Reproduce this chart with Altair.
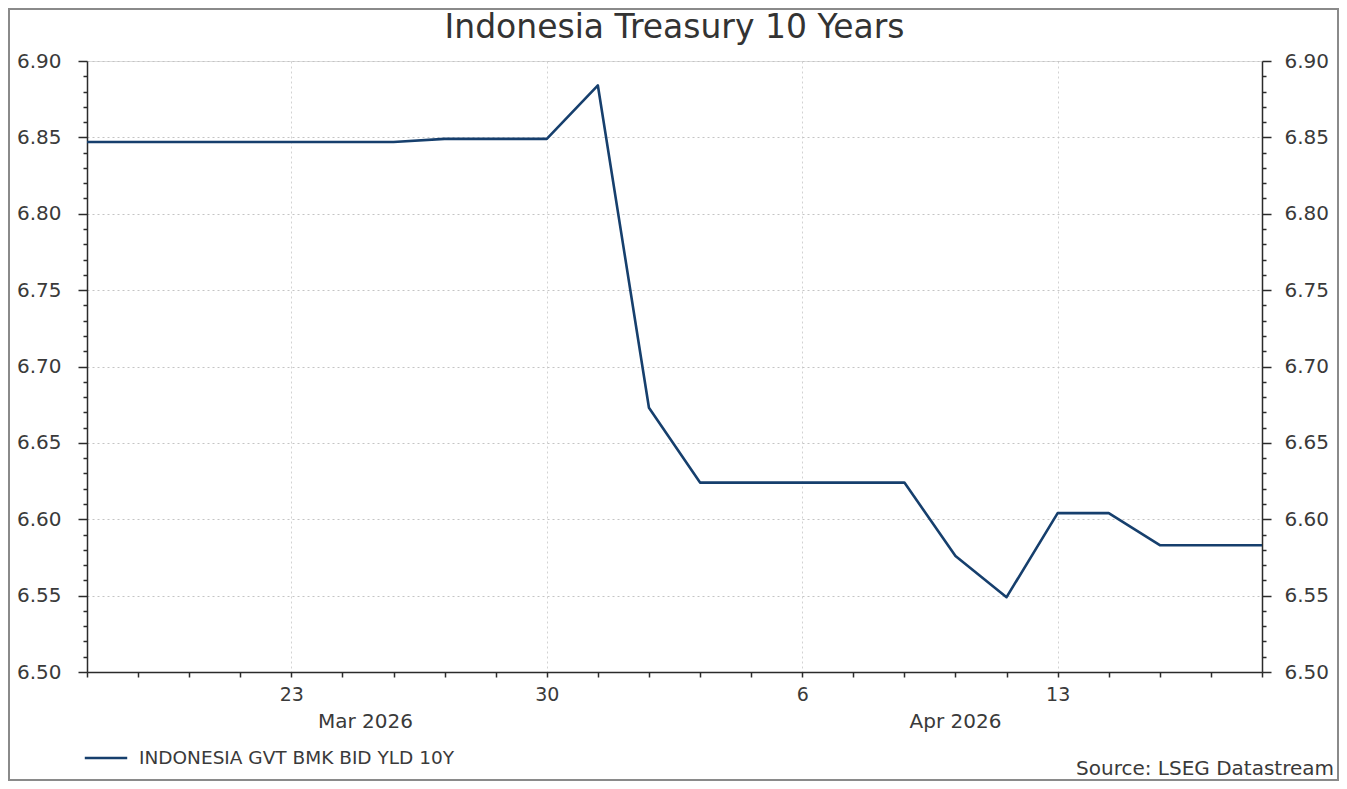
import altair as alt
import pandas as pd

# ---------------- data ----------------
dates = ["2026-03-17", "2026-03-18", "2026-03-19", "2026-03-20",
         "2026-03-23", "2026-03-24", "2026-03-25", "2026-03-26", "2026-03-27",
         "2026-03-30", "2026-03-31", "2026-04-01", "2026-04-02", "2026-04-03",
         "2026-04-06", "2026-04-07", "2026-04-08", "2026-04-09", "2026-04-10",
         "2026-04-13", "2026-04-14", "2026-04-15", "2026-04-16", "2026-04-17"]
yields = [6.847, 6.847, 6.847, 6.847,
          6.847, 6.847, 6.847, 6.849, 6.849,
          6.849, 6.884, 6.673, 6.624, 6.624,
          6.624, 6.624, 6.624, 6.576, 6.549,
          6.604, 6.604, 6.583, 6.583, 6.583]
series_name = "INDONESIA GVT BMK BID YLD 10Y"
title_text = "Indonesia Treasury 10 Years"
source_text = "Source: LSEG Datastream"
month_labels = ["Mar 2026", "Apr 2026"]
month_label_pos = [5.45, 17.0]          # business-day index of month label centres
y_major = [6.50, 6.55, 6.60, 6.65, 6.70, 6.75, 6.80, 6.85, 6.90]

df = pd.DataFrame({"date": pd.to_datetime(dates), "yld": yields})
df["idx"] = range(len(df))
df["series"] = series_name
mondays = df[df["date"].dt.weekday == 0]
major_idx = mondays["idx"].tolist()
major_lab = mondays["date"].dt.day.astype(str).tolist()

y_minor = [round(y_major[0] + 0.01 * i, 2) for i in range(int(round((y_major[-1] - y_major[0]) * 100)) + 1)]
x_vals = list(range(len(df)))
x_dom = [0, len(df) - 1]
y_dom = [y_major[0], y_major[-1]]

# ---------------- style ----------------
W, H = 1175, 611
FONT = "DejaVu Sans"
TXT = "#3a3a3a"
AX = "#2b2b2b"
LINE = "#163f6d"
GRID = "#c4c4c4"

x_label_expr = " : ".join(f"datum.value == {i} ? '{l}'" for i, l in zip(major_idx, major_lab)) + " : ''"
x_major_test = f"indexof({major_idx}, datum.value) >= 0"
y_major_test = "abs(round(datum.value * 100) % 5) < 0.5"

x_axis = alt.Axis(
    values=x_vals, labelExpr=x_label_expr, title=None,
    grid=True, gridColor="#d2d2d2", gridDash=[2, 3], gridWidth=1,
    gridOpacity={"condition": {"test": x_major_test, "value": 1}, "value": 0},
    tickSize=5, tickColor=AX, tickWidth=1.5,
    domainColor=AX, domainWidth=1.5,
    labelFont=FONT, labelFontSize=19, labelColor=TXT, labelPadding=8,
    labelOverlap=False, labelFlush=False, labelBound=False,
)

def y_axis(orient, grid, pad):
    return alt.Axis(
        orient=orient, values=y_minor, title=None,
        labelExpr=f"{y_major_test} ? format(datum.value, '.2f') : ''",
        grid=grid, gridColor=GRID, gridDash=[2, 3], gridWidth=1,
        gridOpacity={"condition": {"test": y_major_test, "value": 1}, "value": 0},
        tickSize={"condition": {"test": y_major_test, "value": 9}, "value": 4},
        tickColor=AX, tickWidth=1.5,
        domainColor=AX, domainWidth=1.5,
        labelFont=FONT, labelFontSize=20, labelColor=TXT, labelPadding=pad,
        labelOverlap=False, labelBound=False, labelFlush=False,
    )

def x_enc(field):
    return alt.X(field, scale=alt.Scale(domain=x_dom, nice=False, zero=False), axis=x_axis)

y_scale = alt.Scale(domain=y_dom, nice=False, zero=False)

line = alt.Chart(df).mark_line(strokeWidth=2.6, strokeJoin="round").encode(
    x=x_enc("idx:Q"),
    y=alt.Y("yld:Q", scale=y_scale, axis=y_axis("left", True, 17)),
    color=alt.Color("series:N", scale=alt.Scale(range=[LINE]),
                    legend=alt.Legend(orient="none", legendX=-4, legendY=H + 63,
                                      title=None, symbolType="stroke",
                                      symbolSize=1800, symbolStrokeWidth=2.6,
                                      labelFont=FONT, labelFontSize=18.5,
                                      labelColor=TXT, padding=0, labelOffset=10,
                                      labelLimit=0)),
)

right = alt.Chart(df).mark_line(strokeOpacity=0).encode(
    x=x_enc("idx:Q"),
    y=alt.Y("yld:Q", scale=y_scale, axis=y_axis("right", False, 13)),
)

months = alt.Chart(pd.DataFrame({"pos": month_label_pos, "label": month_labels})).mark_text(
    font=FONT, fontSize=20, color=TXT, baseline="middle", align="center"
).encode(
    x=x_enc("pos:Q"),
    y=alt.value(H + 50),
    text="label:N",
)

source = alt.Chart(pd.DataFrame({"t": [source_text]})).mark_text(
    font=FONT, fontSize=20, color=TXT, baseline="middle", align="right"
).encode(x=alt.value(W + 72), y=alt.value(H + 97), text="t:N")

title = alt.Chart(pd.DataFrame({"t": [title_text]})).mark_text(
    font=FONT, fontSize=33, color="#333333", baseline="middle", align="center"
).encode(x=alt.value(W / 2), y=alt.value(-33), text="t:N")

frame = alt.Chart(pd.DataFrame({"a": [0]})).mark_rect(
    fill="transparent", stroke="#8a8a8a", strokeWidth=2
).encode(x=alt.value(-78), x2=alt.value(W + 76), y=alt.value(-52), y2=alt.value(H + 108))

chart = alt.layer(frame, line, right, months, source, title).resolve_scale(
    y="independent"
).properties(
    width=W, height=H,
    autosize=alt.AutoSizeParams(type="none"),
    padding={"left": 79, "top": 53, "right": 77, "bottom": 109},
).configure_view(stroke="transparent").configure(background="white")

chart.save("out.html", embed_options={"renderer": "svg", "actions": False})
